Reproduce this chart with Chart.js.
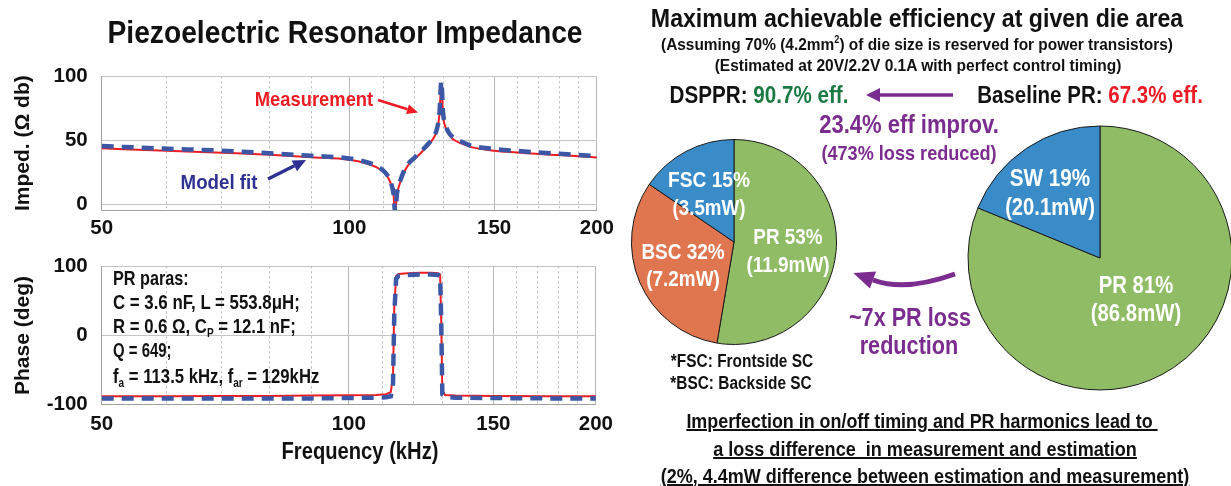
<!DOCTYPE html>
<html>
<head>
<meta charset="utf-8">
<script src="https://cdn.jsdelivr.net/npm/chart.js@4.4.1/dist/chart.umd.min.js"></script>
<style>
  body { margin: 0; background: #fff; overflow: hidden; }
  #page { position: relative; width: 1231px; height: 486px; overflow: hidden;
          font-family: "Liberation Sans", Arial, sans-serif; font-weight: bold; }
  .box { position: absolute; }
  .t { position: absolute; white-space: pre; line-height: 1; transform-origin: 50% 50%; }
  .t.left { transform-origin: 0 50%; }
  .t sub { font-size: 0.6em; vertical-align: -0.35em; line-height: 0; }
  .t sup { font-size: 0.6em; vertical-align: 0.6em; line-height: 0; }
  .t.u { text-decoration: underline; text-decoration-thickness: 1.5px; text-underline-offset: 1px; }
</style>
</head>
<body>
<div id="page">
  <div class="box" style="left:0;top:50px;width:620px;height:190px"><canvas id="impChart"></canvas></div>
  <div class="box" style="left:0;top:240px;width:620px;height:225px"><canvas id="phaseChart"></canvas></div>
  <div class="box" style="left:624px;top:132px;width:220px;height:220px"><canvas id="pieDsppr"></canvas></div>
  <div class="box" style="left:960px;top:118px;width:280px;height:280px"><canvas id="pieBase"></canvas></div>

  <svg class="box" width="1231" height="486" style="left:0;top:0">
    <!-- annotation arrows -->
    <line x1="378" y1="100" x2="407.5" y2="109.2" stroke="#ed1c24" stroke-width="2.5"/>
    <polygon points="418,112.5 406,114 409,104.4" fill="#ed1c24"/>
    <line x1="268" y1="179" x2="294.4" y2="165.8" stroke="#2e3192" stroke-width="3.5"/>
    <polygon points="306,160 297.1,171.2 291.7,160.4" fill="#2e3192"/>
    <line x1="953" y1="95" x2="878" y2="95" stroke="#7b2d8f" stroke-width="3.5"/>
    <polygon points="866,95 880,88 880,102" fill="#7b2d8f"/>
    <path d="M955,274 Q905,292 873,280" fill="none" stroke="#7b2d8f" stroke-width="5"/>
    <polygon points="853.3,272.9 876.1,271.5 869.9,288.5" fill="#7b2d8f"/>
  </svg>
</div>

<script>
// Impedance sweep: frequency (kHz) vs impedance (Ohm dB)
const impFreq = [50, 60, 70, 80, 90, 100, 105, 108, 110, 111.5, 112.5, 113.2, 113.7, 114.3, 115, 116.5, 118, 120, 122.5, 125, 126.5, 127.8, 128.7, 129.4, 130, 130.8, 132, 134, 137, 140, 150, 160, 170, 180, 190, 200];
const impMeas = [43.9, 41.9, 40.4, 38.9, 37, 35, 32, 29, 25.5, 21, 15, 7, -6, 8, 15, 25, 31, 35.5, 41, 47, 51.5, 58, 70, 94.5, 70, 61, 55, 50.5, 47.5, 45.2, 42, 40.6, 39.4, 38.6, 37.7, 36.8];
const impFit = [45.6, 43.6, 42, 40, 38, 36, 33, 30, 26.5, 22, 16, 8, -6, 9, 16, 26, 32, 36.5, 42, 48, 52.5, 59, 71, 96, 72, 63, 56.5, 52, 49, 46.3, 43.4, 41.8, 40.6, 39.6, 38.6, 37.8];

// Phase sweep: frequency (kHz) vs phase (deg)
const phaseFreq = [50, 60, 70, 80, 90, 100, 108, 111, 112.5, 113.2, 113.6, 114.2, 115, 118, 122, 126, 128.5, 129.2, 129.6, 130, 131, 135, 150, 175, 200];
const phaseMeas = [-88, -88, -87.5, -87.5, -87, -86.5, -86, -85, -82, -60, 40, 86, 89, 90, 90.5, 90.5, 90, 88, 20, -80, -86, -87, -87.5, -88, -88];
const phaseFit = [-91, -91, -91, -91, -91, -90.5, -90, -89.5, -88, -70, 30, 82, 86, 87.5, 88, 88, 87.5, 86, 20, -85, -89, -90, -90.5, -91, -91];

// Axis ticks
const freqGrid = [50, 60, 70, 80, 90, 100, 110, 120, 130, 140, 150, 160, 170, 180, 190, 200];
const freqLabels = [50, 100, 150, 200];
const impTicks = [0, 50, 100];
const phaseTicks = [-100, 0, 100];

// Loss breakdown (mW)
const dspprParts = ["PR", "BSC", "FSC"];
const dspprLoss = [11.9, 7.2, 3.5];
const baseParts = ["PR", "SW"];
const baseLoss = [86.8, 20.1];

const BLACK = "#111";
const RED = "#ed1c24";
const GREEN_TXT = "#1b7a43";
const PURPLE = "#7b2d8f";
const NAVY = "#2e3192";
const FIT_BLUE = "#3b57a6";
const MEAS_RED = "#ee1d23";
const PART_COLORS = { PR: "#8fbc64", BSC: "#e0764f", FSC: "#3a8cc8", SW: "#3a8cc8" };
const FONT = "'Liberation Sans', Arial, sans-serif";
const TICK_FONT = { family: FONT, size: 20.5, weight: "bold" };
const AXIS_FONT = { family: FONT, size: 21, weight: "bold" };

const toXY = (xs, ys) => xs.map((x, i) => ({ x: x, y: ys[i] }));

function freqChart(id, o) {
  return new Chart(document.getElementById(id), {
    type: "line",
    data: {
      datasets: [
        { label: "Model fit", data: toXY(o.freq, o.fit), borderColor: FIT_BLUE, borderWidth: 4.5,
          borderDash: [12, 8], pointRadius: 0, tension: 0,
          cubicInterpolationMode: o.smooth ? "monotone" : "default" },
        { label: "Measurement", data: toXY(o.freq, o.meas), borderColor: MEAS_RED, borderWidth: 2,
          pointRadius: 0, tension: 0,
          cubicInterpolationMode: o.smooth ? "monotone" : "default" }
      ]
    },
    options: {
      responsive: true, maintainAspectRatio: false, animation: false, events: [],
      layout: { padding: { top: o.padTop, right: 19, left: 0, bottom: 0 } },
      plugins: { legend: { display: false }, tooltip: { enabled: false } },
      scales: {
        x: {
          type: "logarithmic", min: 50, max: 200,
          afterBuildTicks: s => { s.ticks = freqGrid.map(v => ({ value: v })); },
          afterFit: s => { s.height = o.xHeight; },
          ticks: { autoSkip: false, maxRotation: 0, padding: o.xPad, color: BLACK, font: TICK_FONT,
                   callback: v => freqLabels.includes(v) ? String(v) : "" },
          grid: { drawTicks: false, color: "#b8b8b8" },
          border: { color: "#a0a0a0", dash: c => (c.tick && !freqLabels.includes(c.tick.value)) ? [2, 3] : [] }
        },
        y: {
          min: o.yMin, max: o.yMax,
          afterBuildTicks: s => { s.ticks = o.yTicks.map(v => ({ value: v })); },
          afterFit: s => { s.width = 101.7; },
          ticks: { padding: 14, color: BLACK, font: TICK_FONT },
          grid: { drawTicks: false, color: "#c4c4c4" },
          border: { color: "#a0a0a0" },
          title: { display: true, text: o.yTitle, color: BLACK, font: AXIS_FONT, padding: { top: 11, bottom: 0 } }
        }
      }
    }
  });
}

freqChart("impChart", {
  freq: impFreq, meas: impMeas, fit: impFit, smooth: true,
  yMin: -4.2, yMax: 100, yTicks: impTicks, yTitle: "Imped. (\u03A9 db)",
  padTop: 19.3, xHeight: 30, xPad: 6
});

freqChart("phaseChart", {
  freq: phaseFreq, meas: phaseMeas, fit: phaseFit, smooth: false,
  yMin: -100, yMax: 100, yTicks: phaseTicks, yTitle: "Phase (deg)",
  padTop: 24, xHeight: 60.4, xPad: 7
});

function lossPie(id, parts, loss, r) {
  return new Chart(document.getElementById(id), {
    type: "pie",
    data: {
      labels: parts,
      datasets: [{ data: loss, backgroundColor: parts.map(p => PART_COLORS[p]),
                   borderColor: "#1a1a1a", borderWidth: 1, hoverOffset: 0, radius: r }]
    },
    options: {
      responsive: true, maintainAspectRatio: false, animation: false, events: [], radius: r,
      plugins: { legend: { display: false }, tooltip: { enabled: false } }
    }
  });
}

lossPie("pieDsppr", dspprParts, dspprLoss, 102.5);
lossPie("pieBase", baseParts, baseLoss, 132);

// slice labels, text built from the loss arrays
function sliceLabels(parts, loss, spots, size) {
  const total = loss.reduce((a, b) => a + b, 0);
  const out = [];
  parts.forEach((p, i) => {
    const s = spots[p];
    out.push([p + " " + Math.round(loss[i] / total * 100) + "%", s[0], s[1], size, s[2], "#fff"]);
    out.push(["(" + loss[i] + "mW)", s[0], s[1] + s[4], size, s[3], "#fff"]);
  });
  return out;
}

const dspprSpots = { PR: [787.5, 237, 69.7, 83.3, 28], BSC: [683.3, 252, 83.3, 74, 26.5], FSC: [709, 180, 81.7, 73.3, 28] };
const baseSpots = { PR: [1135.5, 285, 74.3, 90.7, 28.3], SW: [1050, 178.3, 80, 90, 28.4] };

// [html, cx, cy, font size, target width, color, class]
const texts = [
  ["Piezoelectric Resonator Impedance", 344.5, 32, 31, 475, BLACK],
  ["Measurement", 314, 97.7, 21, 118, RED],
  ["Model fit", 219, 181, 21, 76.6, NAVY],
  ["PR paras:", 113.3, 276.7, 21, 75.7, BLACK, "left"],
  ["C = 3.6 nF, L = 553.8\u03BCH;", 113.3, 301, 21, 186.7, BLACK, "left"],
  ["R = 0.6 \u03A9, C<sub>P</sub> = 12.1 nF;", 113.3, 325, 21, 183.3, BLACK, "left"],
  ["Q = 649;", 113.3, 349, 21, 58.3, BLACK, "left"],
  ["f<sub>a</sub> = 113.5 kHz, f<sub>ar</sub> = 129kHz", 113.3, 375, 21, 206, BLACK, "left"],
  ["Frequency (kHz)", 360, 451, 23, 157, BLACK],

  ["Maximum achievable efficiency at given die area", 917, 18, 26, 532, BLACK],
  ["(Assuming 70% (4.2mm<sup>2</sup>) of die size is reserved for power transistors)", 917, 43.5, 17, 512, BLACK],
  ["(Estimated at 20V/2.2V 0.1A with perfect control timing)", 917.5, 64.5, 17, 406.5, BLACK],
  ["DSPPR: <span style=\"color:" + GREEN_TXT + "\">90.7% eff.</span>", 758.5, 95, 24.5, 178.4, BLACK],
  ["Baseline PR: <span style=\"color:" + RED + "\">67.3% eff.</span>", 1090.3, 95, 24.5, 226, BLACK],
  ["23.4% eff improv.", 909, 123.5, 26, 179.7, PURPLE],
  ["(473% loss reduced)", 909, 153, 20.5, 175, PURPLE],
  ["~7x PR loss", 909.5, 316.7, 26, 122.3, PURPLE],
  ["reduction", 909, 345, 26, 98.3, PURPLE],
  ["*FSC: Frontside SC", 741.7, 361.7, 17.5, 142, BLACK],
  ["*BSC: Backside SC", 741, 384, 17.5, 141, BLACK],
  ["Imperfection in on/off timing and PR harmonics lead to ", 922, 421, 20, 471.5, BLACK, "u"],
  ["a loss difference  in measurement and estimation", 924.5, 448.5, 20, 423.7, BLACK, "u"],
  ["(2%, 4.4mW difference between estimation and measurement)", 925.4, 475.5, 20, 528.8, BLACK, "u"]
].concat(sliceLabels(dspprParts, dspprLoss, dspprSpots, 22.5), sliceLabels(baseParts, baseLoss, baseSpots, 24));

const page = document.getElementById("page");
texts.forEach(([html, x, y, size, w, color, cls]) => {
  const el = document.createElement("div");
  el.className = "t" + (cls ? " " + cls : "");
  el.innerHTML = html;
  el.style.fontSize = size + "px";
  el.style.color = color;
  el.style.left = x + "px";
  el.style.top = y + "px";
  page.appendChild(el);
  const k = w / el.offsetWidth;
  el.style.transform = cls === "left"
    ? "translate(0,-50%) scaleX(" + k + ")"
    : "translate(-50%,-50%) scaleX(" + k + ")";
});
</script>
</body>
</html>
